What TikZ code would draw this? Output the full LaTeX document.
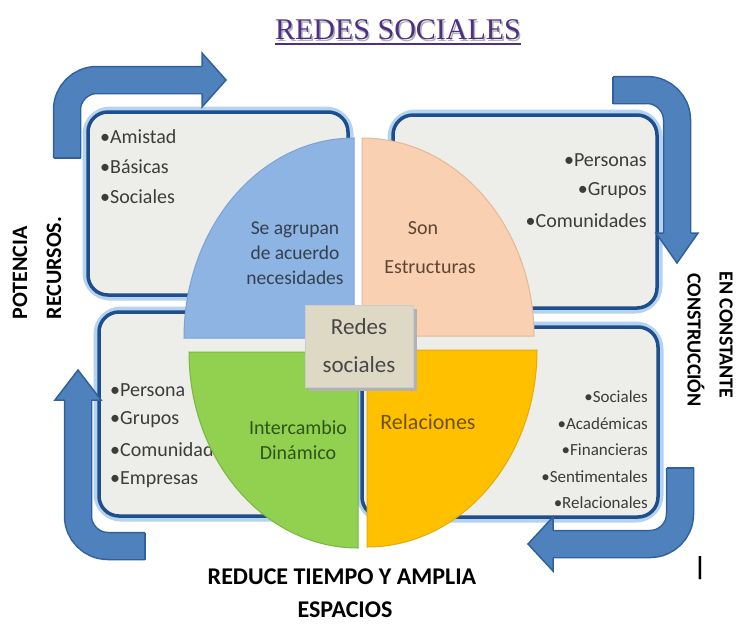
\documentclass[tikz,border=0pt]{standalone}
\usepackage{fontspec}
\setmainfont{Carlito}
\newfontfamily\titlefont{Liberation Serif}
\definecolor{arrowfill}{HTML}{4F81BD}
\definecolor{arrowedge}{HTML}{30619C}
\definecolor{boxedge}{HTML}{1F4E8C}
\definecolor{boxglow}{HTML}{B3D3F0}
\definecolor{boxfill}{HTML}{EDEDE9}
\definecolor{qblue}{HTML}{8DB4E2}
\definecolor{qblueedge}{HTML}{7EA3D0}
\definecolor{qpeach}{HTML}{F9D0B2}
\definecolor{qpeachedge}{HTML}{E3B898}
\definecolor{qgreen}{HTML}{92D050}
\definecolor{qgreenedge}{HTML}{7AB640}
\definecolor{qyellow}{HTML}{FFC000}
\definecolor{qyellowedge}{HTML}{E6AC00}
\definecolor{centerfill}{HTML}{DDD9C4}
\definecolor{titlecol}{HTML}{4E2F86}
\definecolor{itemtext}{HTML}{3C3C3C}
\definecolor{bluetext}{HTML}{34404F}
\definecolor{peachtext}{HTML}{5E4432}
\definecolor{greentext}{HTML}{2E5518}
\definecolor{yellowtext}{HTML}{6E5200}
\begin{document}
\begin{tikzpicture}[x=1pt,y=-1pt,
  glow/.style={draw=boxglow, line width=11pt, rounded corners=22pt},
  infobox/.style={draw=boxedge, line width=3.5pt, fill=boxfill, rounded corners=20pt},
  shaftedge/.style={draw=arrowedge, line width=28.5pt, rounded corners=30pt},
  shaftfill/.style={draw=arrowfill, line width=25.5pt, rounded corners=30pt},
  headfill/.style={fill=arrowfill},
  headedge/.style={draw=arrowedge, line width=1.5pt, line join=miter},
  item/.style={inner sep=0pt, text=itemtext, font=\fontsize{20}{20}\selectfont},
  smallitem/.style={inner sep=0pt, text=itemtext, font=\fontsize{17}{17}\selectfont},
  quad/.style={line width=1pt},
  sidelab/.style={inner sep=0pt, font=\bfseries\fontsize{22}{22}\selectfont},
  bottomlab/.style={inner sep=0pt, font=\bfseries\fontsize{24}{24}\selectfont},
]
\useasboundingbox (0,0) rectangle (739,624);

% ---------- title ----------
\node[inner sep=0pt, text=black!30, font=\titlefont\fontsize{30}{30}\selectfont] (titleshadow) at (399.5,31.5) {REDES SOCIALES};
\node[inner sep=0pt, text=titlecol, font=\titlefont\fontsize{30}{30}\selectfont] (title) at (398,30) {REDES SOCIALES};
\draw[titlecol, line width=1.6pt] ([yshift=-4pt]title.base west) -- ([yshift=-4pt]title.base east);

% ---------- boxes ----------
\draw[glow] (88,112) rectangle (348,295);
\draw[infobox] (88,112) rectangle (348,295);
\draw[glow] (393,115) rectangle (657,308);
\draw[infobox] (393,115) rectangle (657,308);
\draw[glow] (99,312) rectangle (352,516);
\draw[infobox] (99,312) rectangle (352,516);
\draw[glow] (362,327) rectangle (658,517);
\draw[infobox] (362,327) rectangle (658,517);

% ---------- box items ----------
\node[item, anchor=west] (a1) at (100,137) {•Amistad};
\node[item, anchor=west] (a2) at (100,167) {•Básicas};
\node[item, anchor=west] (a3) at (100,197) {•Sociales};

\node[item, anchor=east] (b1) at (647,160) {•Personas};
\node[item, anchor=east] (b2) at (647,191) {•Grupos};
\node[item, anchor=east] (b3) at (647,221) {•Comunidades};

\node[item, anchor=west] (c1) at (110,390) {•Persona};
\node[item, anchor=west] (c2) at (110,420) {•Grupos};
\node[item, anchor=west] (c3) at (110,450) {•Comunidades};
\node[item, anchor=west] (c4) at (110,480) {•Empresas};

\node[smallitem, anchor=east] (d1) at (648,397) {•Sociales};
\node[smallitem, anchor=east] (d2) at (648,423.5) {•Académicas};
\node[smallitem, anchor=east] (d3) at (648,450) {•Financieras};
\node[smallitem, anchor=east] (d4) at (648,476.5) {•Sentimentales};
\node[smallitem, anchor=east] (d5) at (648,503) {•Relacionales};

% ---------- pie quadrants ----------
\coordinate (ctl) at (354,338);
\coordinate (ctr) at (362,336);
\coordinate (cbl) at (358,352);
\coordinate (cbr) at (367,350);
\filldraw[quad, fill=qblue, draw=qblueedge] (ctl) -- ++(-170,0) arc[start angle=180, end angle=90, x radius=170pt, y radius=200pt] -- cycle;
\filldraw[quad, fill=qpeach, draw=qpeachedge] (ctr) -- ++(172,0) arc[start angle=0, end angle=90, x radius=172pt, y radius=198pt] -- cycle;
\filldraw[quad, fill=qgreen, draw=qgreenedge] (cbl) -- ++(-169,0) arc[start angle=180, end angle=270, x radius=169pt, y radius=196pt] -- cycle;
\filldraw[quad, fill=qyellow, draw=qyellowedge] (cbr) -- ++(170,0) arc[start angle=0, end angle=-90, x radius=170pt, y radius=197pt] -- cycle;

\node[inner sep=0pt, align=center, text=bluetext, font=\fontsize{19.5}{25}\selectfont] (qt1) at (295,253) {Se agrupan\\de acuerdo\\necesidades};
\node[inner sep=0pt, text=peachtext, font=\fontsize{20}{20}\selectfont] (qt2a) at (423,228) {Son};
\node[inner sep=0pt, text=peachtext, font=\fontsize{20}{20}\selectfont] (qt2b) at (430,267) {Estructuras};
\node[inner sep=0pt, align=center, text=greentext, font=\fontsize{20}{25}\selectfont] (qt3) at (298,440.5) {Intercambio\\Dinámico};
\node[inner sep=0pt, text=yellowtext, font=\fontsize{22}{22}\selectfont] (qt4) at (428,422) {Relaciones};

% ---------- centre box ----------
\fill[black!30] (309,309) rectangle (417,391);
\node[draw=black!20, fill=centerfill, minimum width=108pt, minimum height=82pt, inner sep=0pt, align=center, text=black!72, font=\fontsize{23}{38}\selectfont] (centre) at (359,346) {Redes\\sociales};

% ---------- arrows ----------
% top-left
\coordinate (tla1) at (67,158); \coordinate (tla2) at (67,80); \coordinate (tla3) at (202,80);
\draw[shaftedge] (tla1) -- (tla2) -- (tla3);
\draw[shaftfill] (tla1) -- (tla2) -- (tla3);
\draw[headedge] ([xshift=-13.5pt]tla1) -- ([xshift=13.5pt]tla1);
\coordinate (tlh1) at (202,66.5); \coordinate (tlh2) at (202,53); \coordinate (tlh3) at (226,80);
\coordinate (tlh4) at (202,107); \coordinate (tlh5) at (202,93.5);
\fill[headfill] (tlh1) -- (tlh2) -- (tlh3) -- (tlh4) -- (tlh5) -- cycle;
\draw[headedge] (tlh1) -- (tlh2) -- (tlh3) -- (tlh4) -- (tlh5);

% top-right
\coordinate (tra1) at (613,90); \coordinate (tra2) at (677,90); \coordinate (tra3) at (677,233);
\draw[shaftedge] (tra1) -- (tra2) -- (tra3);
\draw[shaftfill] (tra1) -- (tra2) -- (tra3);
\draw[headedge] ([yshift=13.5pt]tra1) -- ([yshift=-13.5pt]tra1);
\coordinate (trh1) at (663.5,233); \coordinate (trh2) at (656,233); \coordinate (trh3) at (677,263);
\coordinate (trh4) at (698,233); \coordinate (trh5) at (690.5,233);
\fill[headfill] (trh1) -- (trh2) -- (trh3) -- (trh4) -- (trh5) -- cycle;
\draw[headedge] (trh1) -- (trh2) -- (trh3) -- (trh4) -- (trh5);

% bottom-left
\coordinate (bla1) at (145,546); \coordinate (bla2) at (78,546); \coordinate (bla3) at (78,400);
\draw[shaftedge] (bla1) -- (bla2) -- (bla3);
\draw[shaftfill] (bla1) -- (bla2) -- (bla3);
\draw[headedge] ([yshift=13.5pt]bla1) -- ([yshift=-13.5pt]bla1);
\coordinate (blh1) at (91.5,400); \coordinate (blh2) at (101,400); \coordinate (blh3) at (78,370);
\coordinate (blh4) at (55,400); \coordinate (blh5) at (64.5,400);
\fill[headfill] (blh1) -- (blh2) -- (blh3) -- (blh4) -- (blh5) -- cycle;
\draw[headedge] (blh1) -- (blh2) -- (blh3) -- (blh4) -- (blh5);

% bottom-right
\coordinate (bra1) at (680,468); \coordinate (bra2) at (680,544); \coordinate (bra3) at (553,544);
\draw[shaftedge] (bra1) -- (bra2) -- (bra3);
\draw[shaftfill] (bra1) -- (bra2) -- (bra3);
\draw[headedge] ([xshift=-13.5pt]bra1) -- ([xshift=13.5pt]bra1);
\coordinate (brh1) at (553,530.5); \coordinate (brh2) at (553,517); \coordinate (brh3) at (528,544);
\coordinate (brh4) at (553,571); \coordinate (brh5) at (553,557.5);
\fill[headfill] (brh1) -- (brh2) -- (brh3) -- (brh4) -- (brh5) -- cycle;
\draw[headedge] (brh1) -- (brh2) -- (brh3) -- (brh4) -- (brh5);

% ---------- side labels ----------
\node[sidelab, rotate=90] (pot) at (20,273) {POTENCIA};
\node[sidelab, rotate=90] (rec) at (54,268) {RECURSOS.};
\node[sidelab, rotate=-90, font=\bfseries\fontsize{20}{20}\selectfont] (enc) at (726,335) {EN CONSTANTE};
\node[sidelab, rotate=-90, font=\bfseries\fontsize{20}{20}\selectfont] (cons) at (696,340) {CONSTRUCCIÓN};
\node[bottomlab] (red) at (342,577) {REDUCE TIEMPO Y AMPLIA};
\node[bottomlab] (esp) at (345,610) {ESPACIOS};
\node[inner sep=0pt, font=\bfseries\fontsize{26}{26}\selectfont] (bar) at (700,568) {|};
\end{tikzpicture}
\end{document}
